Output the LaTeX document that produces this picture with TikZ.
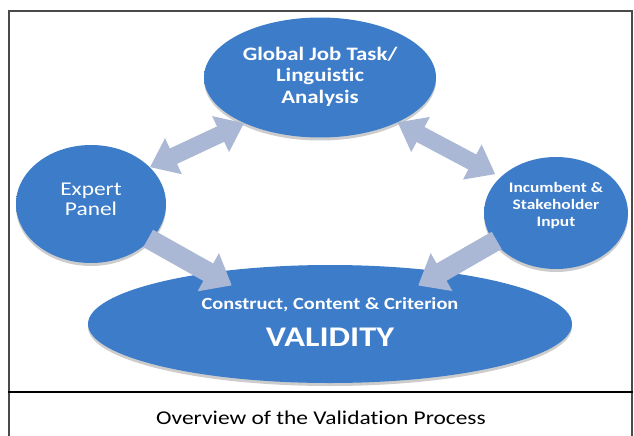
\documentclass[tikz,border=0pt]{standalone}
\usepackage{fontspec}
\setmainfont{Carlito}[Ligatures=NoCommon]
\usetikzlibrary{arrows.meta,shapes.geometric,shadows}
\definecolor{bubA}{HTML}{3D7CC9}
\definecolor{bubB}{HTML}{2A5CA4}
\definecolor{arrowgray}{HTML}{ABB8D5}
\definecolor{framegray}{HTML}{4A4A4A}
\pgfdeclareradialshading{bubbleshade}{\pgfpoint{0bp}{5bp}}{color(0bp)=(bubA); color(32bp)=(bubA); color(48bp)=(bubB); color(60bp)=(bubB)}
\newcommand{\wtext}[3]{\raisebox{#1}[\height][\depth]{\scalebox{1.2}[1]{#2\begin{tabular}{@{}c@{}}#3\end{tabular}}}}
\begin{document}
\begin{tikzpicture}[x=1pt,y=-1pt,
  bubble/.style={ellipse, inner sep=0pt, text=white, shade, shading=bubbleshade,
    drop shadow={shadow xshift=0pt, shadow yshift=-3pt, fill=black, opacity=0.2}},
  thinarrow/.style={draw=arrowgray, line width=17pt},
  widearrow/.style={draw=arrowgray, line width=20pt},
  thintip/.tip={Triangle[length=26pt,width=38pt]},
  widetip/.tip={Triangle[length=27pt,width=42pt]},
  framestyle/.style={draw=framegray, line width=2pt},
  dividerstyle/.style={draw=black, line width=2.5pt}]
\useasboundingbox (0,0) rectangle (634,436);
% frame
\draw[framestyle] (9,436) -- (9,11) -- (632,11) -- (632,436);
\draw[dividerstyle] (8,392) -- (633,392);
% nodes
\node[bubble, minimum width=232pt, minimum height=120pt] (top) at (320,77.5)
  {\wtext{0pt}{\bfseries\fontsize{19}{21.5}\selectfont}{Global Job Task/\\Linguistic\\Analysis}};
\node[bubble, minimum width=150pt, minimum height=118pt] (expert) at (91,204)
  {\wtext{3pt}{\fontsize{19.5}{20}\selectfont}{Expert\\Panel}};
\node[bubble, minimum width=144pt, minimum height=112pt] (incumbent) at (556,213)
  {\wtext{7pt}{\bfseries\fontsize{14.5}{16.7}\selectfont}{Incumbent \&\\Stakeholder\\Input}};
\node[bubble, minimum width=484pt, minimum height=118pt] (validity) at (330,324)
  {\wtext{0pt}{\bfseries\fontsize{17}{20}\selectfont}{Construct, Content \& Criterion\\[12pt]{\fontsize{28.5}{30}\selectfont VALIDITY}}};
% connectors
\draw[thinarrow, {thintip}-{thintip}] (expert.32) -- (top.211);
\draw[thinarrow, {thintip}-{thintip}, shorten >=6pt] (top.330) -- (incumbent.147);
\draw[widearrow, -{widetip}, shorten <=-3pt, shorten >=-26pt] (expert.329) -- (validity.157);
\draw[widearrow, -{widetip}, shorten <=-3pt, shorten >=-28pt] (incumbent.205) -- (validity.25);
% caption
\node (caption) at (321,418) {\scalebox{1.2}[1]{\fontsize{19.5}{22}\selectfont Overview of the Validation Process}};
\end{tikzpicture}
\end{document}
